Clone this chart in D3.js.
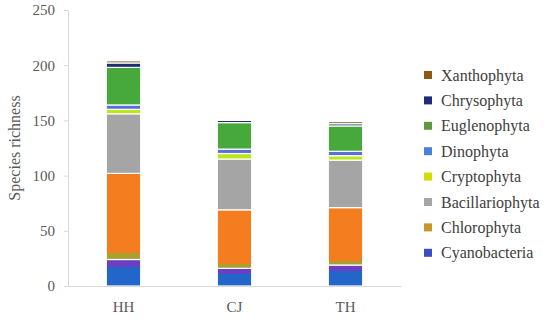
<!DOCTYPE html>
<html>
<head>
<meta charset="utf-8">
<script src="https://cdn.jsdelivr.net/npm/d3@7"></script>
<style>
  body { margin: 0; background: #fff; }
</style>
</head>
<body>
<div id="chart"></div>
<script>
// data
var sites = ["HH", "CJ", "TH"];
var groups = ["Cyanobacteria", "Chlorophyta", "Bacillariophyta", "Cryptophyta",
              "Dinophyta", "Euglenophyta", "Chrysophyta", "Xanthophyta"];
var cyanobacteria   = [24, 16, 19];
var chlorophyta     = [78, 53, 52];
var bacillariophyta = [54, 46, 43];
var cryptophyta     = [4, 5, 4];
var dinophyta       = [4, 4, 4];
var euglenophyta    = [34, 24, 23];
var chrysophyta     = [4, 2, 2];
var xanthophyta     = [2, 1, 2];
var yTicks = [0, 50, 100, 150, 200, 250];

var seriesValues = [cyanobacteria, chlorophyta, bacillariophyta, cryptophyta,
                    dinophyta, euglenophyta, chrysophyta, xanthophyta];

var FONT = "'Liberation Serif', 'Times New Roman', serif";

// colours: bar fill (some split in two tones like the picture) and legend swatch
var barColor = {
  Cyanobacteria: ["#6a3fc2", "#2166c8", 0.3],
  Chlorophyta: ["#f47d20", "#a9a030", 0.93],
  Bacillariophyta: ["#a6a5a6", "#a6a5a6", 1],
  Cryptophyta: ["#b9e81a", "#b9e81a", 1],
  Dinophyta: ["#5b6fd6", "#5b6fd6", 1],
  Euglenophyta: ["#47a83b", "#47a83b", 1],
  Chrysophyta: ["#1d2f6e", "#1d2f6e", 1],
  Xanthophyta: ["#8a7a4a", "#8a7a4a", 1]
};
var legendColor = {
  Xanthophyta: "#8b5a12", Chrysophyta: "#1f2a78", Euglenophyta: "#5e9a3c",
  Dinophyta: "#4a7fd8", Cryptophyta: "#d2dc00", Bacillariophyta: "#a5a5a5",
  Chlorophyta: "#c8962a", Cyanobacteria: "#3a4ec6"
};

var width = 550, height = 320;
var margin = {top: 10, left: 68, right: 149, bottom: 34};

var svg = d3.select("#chart").append("svg")
    .attr("width", width).attr("height", height)
    .style("font-family", FONT);

// build table for stacking
var table = sites.map(function(s, i) {
  var row = {site: s};
  groups.forEach(function(g, j) { row[g] = seriesValues[j][i]; });
  return row;
});
var stacked = d3.stack().keys(groups)(table);

var x = d3.scaleBand()
    .domain(sites)
    .range([margin.left, width - margin.right])
    .paddingInner(0.69)
    .paddingOuter(0.345);

var y = d3.scaleLinear()
    .domain([0, 250])
    .range([height - margin.bottom, margin.top]);

// gradients with hard stops
var defs = svg.append("defs");
groups.forEach(function(g) {
  var c = barColor[g];
  var grad = defs.append("linearGradient")
      .attr("id", "g-" + g)
      .attr("x1", 0).attr("y1", 0).attr("x2", 0).attr("y2", 1);
  grad.append("stop").attr("offset", 0).attr("stop-color", c[0]);
  grad.append("stop").attr("offset", c[2]).attr("stop-color", c[0]);
  grad.append("stop").attr("offset", c[2]).attr("stop-color", c[1]);
  grad.append("stop").attr("offset", 1).attr("stop-color", c[1]);
});

// bars
svg.append("g")
  .selectAll("g")
  .data(stacked)
  .enter().append("g")
    .attr("fill", function(d) { return "url(#g-" + d.key + ")"; })
  .selectAll("rect")
  .data(function(d) { return d; })
  .enter().append("rect")
    .attr("x", function(d) { return x(d.data.site); })
    .attr("y", function(d) { return y(d[1]); })
    .attr("width", x.bandwidth())
    .attr("height", function(d) { return y(d[0]) - y(d[1]); })
    .attr("stroke", "#fff")
    .attr("stroke-width", 1.2);

// y axis
var yAxis = svg.append("g")
    .attr("transform", "translate(" + margin.left + ",0)")
    .call(d3.axisLeft(y).tickValues(yTicks).tickSize(4).tickPadding(9));
yAxis.attr("font-family", null);
yAxis.select(".domain").attr("stroke", "#d9d9d9");
yAxis.selectAll(".tick line").attr("stroke", "#d9d9d9");
yAxis.selectAll(".tick text")
    .attr("fill", "#595959")
    .style("font-size", "15px")
    .style("font-family", FONT);

// x axis
var xAxis = svg.append("g")
    .attr("transform", "translate(0," + y(0) + ")")
    .call(d3.axisBottom(x).tickSize(0).tickPadding(15));
xAxis.attr("font-family", null);
xAxis.select(".domain").attr("stroke", "#d9d9d9");
xAxis.selectAll(".tick text")
    .attr("fill", "#595959")
    .style("font-size", "15px")
    .style("font-family", FONT);

// y label
svg.append("text")
    .attr("transform", "translate(20,148) rotate(-90)")
    .attr("text-anchor", "middle")
    .attr("fill", "#595959")
    .style("font-size", "16px")
    .style("font-family", FONT)
    .text("Species richness");

// legend (top to bottom, reversed stack order)
var legendItems = groups.slice().reverse();
var legend = svg.append("g").selectAll("g")
  .data(legendItems)
  .enter().append("g")
    .attr("transform", function(d, i) { return "translate(424," + (75 + i * 25.4) + ")"; });
legend.append("rect")
    .attr("x", 0).attr("y", -4)
    .attr("width", 8).attr("height", 8)
    .attr("fill", function(d) { return legendColor[d]; });
legend.append("text")
    .attr("x", 17).attr("y", 0)
    .attr("dy", "0.35em")
    .attr("fill", "#404040")
    .style("font-size", "16px")
    .style("font-family", FONT)
    .text(function(d) { return d; });
</script>
</body>
</html>
